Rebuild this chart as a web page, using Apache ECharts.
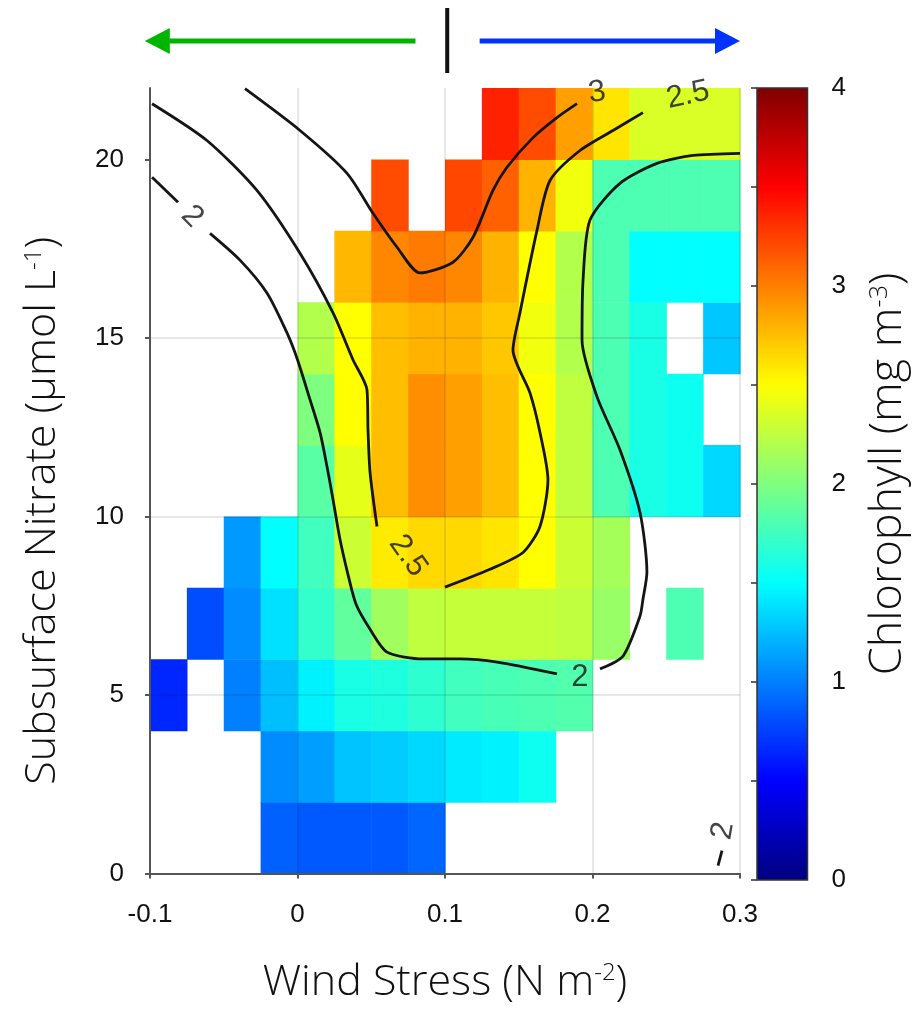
<!DOCTYPE html>
<html>
<head>
<meta charset="utf-8">
<script src="https://cdn.jsdelivr.net/npm/echarts@6/dist/echarts.min.js"></script>
<style>
  html, body { margin: 0; padding: 0; background: #fff; }
  #main { width: 912px; height: 1009px; }
</style>
</head>
<body>
<div id="main"></div>
<script>
// bin centres
var windStress = [-0.0875, -0.0625, -0.0375, -0.0125, 0.0125, 0.0375, 0.0625, 0.0875,
                  0.1125, 0.1375, 0.1625, 0.1875, 0.2125, 0.2375, 0.2625, 0.2875];
var nitrate = [1, 3, 5, 7, 9, 11, 13, 15, 17, 19, 21];
var cellW = 0.025, cellH = 2;
var n = null;
// chlorophyll per nitrate row (bottom -> top), one value per wind stress bin
var chlRows = [
  [n, n, n, 0.88, 0.85, 0.85, 0.85, 0.9, n, n, n, n, n, n, n, n],
  [n, n, n, 1.05, 1.12, 1.27, 1.3, 1.35, 1.42, 1.45, 1.55, n, n, n, n, n],
  [0.65, n, 1.0, 1.25, 1.45, 1.6, 1.62, 1.68, 1.75, 1.78, 1.8, 1.82, n, n, n, n],
  [n, 0.8, 1.05, 1.38, 1.7, 1.88, 2.13, 2.25, 2.27, 2.27, 2.27, 2.25, 2.1, n, 1.8, n],
  [n, n, 1.1, 1.5, 1.75, 2.3, 2.58, 2.65, 2.65, 2.6, 2.5, 2.3, 2.15, n, n, n],
  [n, n, n, n, 1.85, 2.4, 2.75, 2.94, 2.87, 2.75, 2.5, 2.25, 1.8, 1.6, 1.55, 1.35],
  [n, n, n, n, 2.0, 2.5, 2.75, 2.94, 2.87, 2.75, 2.5, 2.25, 1.8, 1.6, 1.55, n],
  [n, n, n, n, 2.2, 2.5, 2.75, 2.8, 2.8, 2.72, 2.45, 2.2, 1.8, 1.6, n, 1.28],
  [n, n, n, n, n, 2.78, 2.97, 3.02, 2.97, 2.8, 2.5, 2.2, 1.8, 1.5, 1.5, 1.5],
  [n, n, n, n, n, n, 3.2, n, 3.22, 3.12, 2.8, 2.45, 1.8, 1.8, 1.8, 1.8],
  [n, n, n, n, n, n, n, n, n, 3.37, 3.2, 2.87, 2.6, 2.35, 2.35, 2.35]
];

// contour lines, split where the labels sit
var contour2 = [
  [[-0.0986, 19.5], [-0.081, 18.8]],
  [[-0.0593, 17.93], [-0.039, 17.18], [-0.0207, 16.26], [-0.0071, 15.14], [0.0, 14.39], [0.0085, 13.27],
   [0.0153, 12.35], [0.020, 11.4], [0.0241, 10.47], [0.0288, 9.36], [0.0342, 8.38], [0.0397, 7.54],
   [0.0492, 6.84], [0.0607, 6.2], [0.0851, 6.01], [0.1102, 6.01], [0.1353, 5.92], [0.1759, 5.59]],
  [[0.2051, 5.73], [0.2207, 6.09], [0.2322, 7.21], [0.2342, 7.68], [0.2369, 8.44], [0.2322, 10.11],
   [0.2186, 11.87], [0.2031, 13.35], [0.1929, 14.94], [0.1936, 16.62], [0.1983, 18.3], [0.2186, 19.33],
   [0.2437, 19.89], [0.2681, 20.11], [0.3, 20.17]],
  [[0.2878, 0.64], [0.2851, 0.22]]
];
var contour25 = [
  [[-0.0986, 21.56], [-0.0614, 20.53], [-0.0275, 19.13], [0.0017, 17.37], [0.0241, 15.7], [0.0376, 14.39],
   [0.0471, 13.55], [0.0478, 12.43], [0.0492, 11.23], [0.0539, 9.72]],
  [[0.1, 8.02], [0.1305, 8.52], [0.1529, 8.99], [0.1644, 9.72], [0.1698, 11.03], [0.1644, 12.35],
   [0.1576, 13.46], [0.1461, 14.66], [0.1508, 15.7], [0.1624, 18.02], [0.1712, 19.41], [0.1915, 20.25],
   [0.2139, 20.81], [0.2342, 21.31]]
];
var contour3 = [
  [[-0.0356, 21.98], [0.0017, 20.81], [0.0336, 19.61], [0.0512, 18.49], [0.0675, 17.54], [0.0831, 16.82],
   [0.1054, 17.12], [0.119, 17.82], [0.1325, 19.13], [0.142, 19.78], [0.1597, 20.61], [0.1759, 21.17],
   [0.1895, 21.56]]
];
var contourLabelPos = [[-0.0715, 18.4], [0.0749, 8.9], [0.1915, 5.5], [0.2031, 21.87], [0.2647, 21.8], [0.2885, 1.2]];
var contourLabelText = ['2', '2.5', '2', '3', '2.5', '2'];
var contourLabelRotate = [-45, -55, 0, 8, 12, 80];

var yTicks = [0, 5, 10, 15, 20];
var chlTicks = [0, 1, 2, 3, 4];
var greenArrow = [0.08, -0.1035];
var blueArrow = [0.1235, 0.3];
var divider = 0.1015;

var jet = ['#00007f', '#0000ff', '#007fff', '#00ffff', '#7fff7f', '#ffff00', '#ff7f00', '#ff0000', '#7f0000'];

var cells = [];
chlRows.forEach(function (row, r) {
  row.forEach(function (v, c) {
    if (v != null) cells.push([windStress[c], nitrate[r], v]);
  });
});

function renderCell(params, api) {
  var x = api.value(0), y = api.value(1);
  var a = api.coord([x - cellW / 2, y + cellH / 2]);
  var b = api.coord([x + cellW / 2, y - cellH / 2]);
  return {
    type: 'rect',
    shape: { x: a[0], y: a[1], width: b[0] - a[0] + 0.6, height: b[1] - a[1] + 0.6 },
    style: { fill: api.visual('color') }
  };
}

var font = "'Liberation Sans', Arial, sans-serif";
var lightFont = "'Open Sans', Roboto, sans-serif";
function nameStyle(size, pad) {
  return {
    fontSize: size, fontFamily: lightFont, fontWeight: 300, color: '#111', lineHeight: 42,
    padding: pad || 0,
    rich: { sup: { fontSize: Math.round(size * 0.56), fontFamily: lightFont, fontWeight: 300, verticalAlign: 'top', lineHeight: 42, color: '#111' } }
  };
}

var series = [{
  type: 'custom',
  renderItem: renderCell,
  dimensions: ['wind', 'nitrate', 'chl'],
  encode: { x: 0, y: 1 },
  data: cells,
  z: 2
}];

function addLines(segs) {
  segs.forEach(function (seg) {
    series.push({
      type: 'line',
      data: seg,
      showSymbol: false,
      smooth: 0.25,
      lineStyle: { color: '#151515', width: 2.8 },
      silent: true,
      z: 4
    });
  });
}
addLines(contour2);
addLines(contour25);
addLines(contour3);

series.push({
  type: 'scatter',
  symbolSize: 1,
  itemStyle: { color: 'rgba(0,0,0,0)' },
  silent: true,
  z: 5,
  data: contourLabelPos.map(function (p, i) {
    return {
      value: p,
      label: {
        show: true,
        position: 'inside',
        formatter: contourLabelText[i],
        rotate: contourLabelRotate[i],
        fontSize: 31,
        fontFamily: font,
        color: '#151515'
      }
    };
  })
});

var myChart = echarts.init(document.getElementById('main'));
myChart.setOption({
  animation: false,
  backgroundColor: '#fff',
  grid: [
    { left: 150, right: 172, top: 88, bottom: 134 },
    { left: 757, top: 88, width: 51, height: 792, show: true, borderColor: '#333', borderWidth: 1.5, backgroundColor: 'rgba(0,0,0,0)', z: 10 }
  ],
  xAxis: [{
    type: 'value',
    min: -0.1,
    max: 0.3,
    interval: 0.1,
    z: 6,
    name: 'Wind Stress (N m{sup|-2})',
    nameLocation: 'middle',
    nameGap: 88,
    nameTextStyle: nameStyle(43),
    axisLine: { show: true, onZero: false, lineStyle: { color: '#555', width: 2 } },
    axisTick: { show: true, length: 5, lineStyle: { color: '#555', width: 2 } },
    axisLabel: {
      fontSize: 26, fontFamily: font, color: '#111', margin: 28,
      formatter: function (v) { return String(Math.round(v * 10) / 10); }
    },
    splitLine: { show: true, lineStyle: { color: 'rgba(0,0,0,0.13)', width: 1.5 } }
  }, {
    gridIndex: 1, type: 'value', show: false, min: 0, max: 1
  }],
  yAxis: [{
    type: 'value',
    min: 0,
    max: 22,
    interval: 5,
    z: 6,
    name: 'Subsurface Nitrate (μmol L{sup|-1})',
    nameLocation: 'middle',
    nameGap: 86,
    nameTextStyle: nameStyle(43, [0, 60, 0, 0]),
    axisLine: { show: true, onZero: false, lineStyle: { color: '#555', width: 2 } },
    axisTick: { show: true, length: 5, customValues: yTicks, lineStyle: { color: '#555', width: 2 } },
    axisLabel: { fontSize: 26, fontFamily: font, color: '#111', margin: 26, customValues: yTicks },
    splitLine: { show: true, showMaxLine: false, lineStyle: { color: 'rgba(0,0,0,0.13)', width: 1.5 } }
  }, {
    gridIndex: 1,
    type: 'value',
    position: 'right',
    min: 0,
    max: 4,
    interval: 0.5,
    z: 11,
    name: 'Chlorophyll (mg m{sup|-3})',
    nameLocation: 'middle',
    nameRotate: 90,
    nameGap: 60,
    nameTextStyle: nameStyle(45, [0, 0, 0, 20]),
    axisLine: { show: false },
    axisTick: { show: true, inside: true, length: 6, lineStyle: { color: '#333', width: 1.5 } },
    axisLabel: {
      fontSize: 26, fontFamily: font, color: '#111', margin: 24,
      formatter: function (v) { return chlTicks.indexOf(v) >= 0 ? String(v) : ''; }
    },
    splitLine: { show: false }
  }],
  visualMap: {
    type: 'continuous',
    min: 0,
    max: 4,
    seriesIndex: 0,
    dimension: 2,
    calculable: false,
    hoverLink: false,
    left: 757,
    top: 88,
    padding: 0,
    itemWidth: 51,
    itemHeight: 792,
    text: null,
    inRange: { color: jet }
  },
  series: series
});

// direction arrows above the plot, placed from wind stress values
function gx(v) { return myChart.convertToPixel({ xAxisIndex: 0 }, v); }
var arrowY = 41, head = 25, half = 13;
var gTip = gx(greenArrow[1]), bTip = gx(blueArrow[1]);
myChart.setOption({
  graphic: [
    { type: 'line', shape: { x1: gx(greenArrow[0]), y1: arrowY, x2: gTip + head - 2, y2: arrowY }, style: { stroke: '#00b400', lineWidth: 5 } },
    { type: 'polygon', shape: { points: [[gTip, arrowY], [gTip + head, arrowY - half], [gTip + head, arrowY + half]] }, style: { fill: '#00b400' } },
    { type: 'line', shape: { x1: gx(blueArrow[0]), y1: arrowY, x2: bTip - head + 2, y2: arrowY }, style: { stroke: '#0033ff', lineWidth: 5 } },
    { type: 'polygon', shape: { points: [[bTip, arrowY], [bTip - head, arrowY - half], [bTip - head, arrowY + half]] }, style: { fill: '#0033ff' } },
    { type: 'line', shape: { x1: gx(divider), y1: 8, x2: gx(divider), y2: 73 }, style: { stroke: '#111', lineWidth: 4 } }
  ]
});
</script>
</body>
</html>
